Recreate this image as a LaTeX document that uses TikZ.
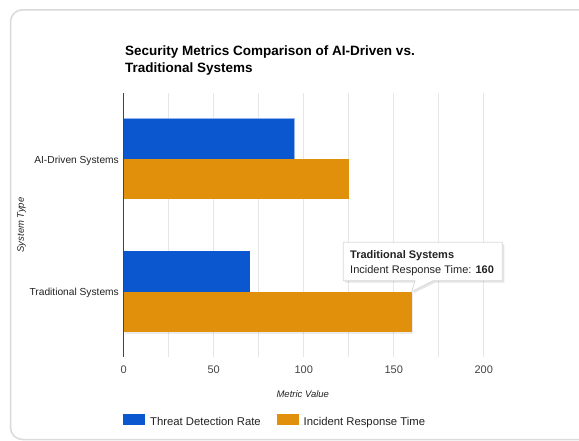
\documentclass[tikz,border=0pt]{standalone}
\usepackage{fontspec}
\setmainfont{Liberation Sans}
\definecolor{barblue}{HTML}{0B57D0}
\definecolor{barorange}{HTML}{E0900A}
\definecolor{gridgray}{HTML}{E6E6E6}
\definecolor{cardgray}{HTML}{DADADA}
\definecolor{txt}{HTML}{222222}
\definecolor{tick}{HTML}{444444}
\begin{document}
\begin{tikzpicture}[x=1pt,y=-1pt,
  lbl/.style={inner sep=0pt,text=txt,font=\fontsize{10.2}{12}\selectfont},
  ticklbl/.style={inner sep=0pt,text=tick,font=\fontsize{11}{13}\selectfont,anchor=base},
  ttl/.style={inner sep=0pt,anchor=base west,text=black,font=\fontsize{13.5}{16}\bfseries\selectfont},
  axttl/.style={inner sep=0pt,text=txt,font=\fontsize{9.5}{11}\itshape\selectfont},
  legtxt/.style={inner sep=0pt,anchor=base west,text=txt,font=\fontsize{11.3}{13}\selectfont},
  tiptxt/.style={inner sep=0pt,anchor=base west,text=txt,font=\fontsize{11}{13}\selectfont},
  gridln/.style={draw=gridgray,line width=0.8pt},
  bluebar/.style={fill=barblue},
  orangebar/.style={fill=barorange}]
\useasboundingbox (0,0) rectangle (579,440);
\fill[white] (0,0) rectangle (579,440);
\begin{scope}
\clip (0,0) rectangle (579,440);
\draw[cardgray,line width=1.5pt,rounded corners=12pt] (10.5,9.8) rectangle (600,439.5);
\end{scope}
% title
\node[ttl] (t1) at (125,55.5) {Security Metrics Comparison of AI-Driven vs.};
\node[ttl] (t2) at (125,72.5) {Traditional Systems};
% grid and bars in data units
\begin{scope}[xshift=123.7pt,x=1.8pt]
  \foreach \v in {25,50,...,200} \draw[gridln] (\v,93) -- (\v,357);
  % shadow of highlighted bar
  \fill[black,opacity=0.08] (0.6,292.5) rectangle (160.8,333.5);
  \fill[bluebar] (0,118.3) rectangle (95,159);
  \draw[barblue!45,line width=0.8pt] (0,118.3) rectangle (95,159);
  \fill[orangebar] (0,159) rectangle (125,199.3);
  \fill[bluebar] (0,251) rectangle (70,291.7);
  \fill[orangebar] (0,291.7) rectangle (160,332.3);
  \draw[tick,line width=1pt] (0,93) -- (0,357);
  \foreach \v in {0,50,100,150,200} \node[ticklbl] (tk\v) at (\v,373.3) {\v};
\end{scope}
% category labels
\node[lbl,anchor=base east] (cat1) at (119,163.3) {AI-Driven Systems};
\node[lbl,anchor=base east] (cat2) at (119,295) {Traditional Systems};
% axis titles
\node[axttl,rotate=90] (ytitle) at (21.5,225) {System Type};
\node[axttl,anchor=base] (xtitle) at (302.8,397.5) {Metric Value};
% legend
\fill[barblue] (123,414.3) rectangle (145,425.3);
\node[legtxt] (leg1) at (150,425) {Threat Detection Rate};
\fill[barorange] (276.5,414.3) rectangle (298.5,425.3);
\node[legtxt] (leg2) at (303.5,425) {Incident Response Time};
% tooltip
\fill[black,opacity=0.10] (345,244.3) -- (504.3,244.3) -- (504.3,282.7) -- (435,282.7) -- (413.7,293.2) -- (417,282.7) -- (345,282.7) -- cycle;
\draw[fill=white,draw=cardgray,line width=0.8pt] (343.3,242.3) -- (502.3,242.3) -- (502.3,280.7) -- (433,280.7) -- (411.7,291.7) -- (415,280.7) -- (343.3,280.7) -- cycle;
\node[tiptxt] (tip1) at (350,258.3) {\bfseries Traditional Systems};
\node[tiptxt] (tip2) at (350,273.3) {Incident Response Time: \textbf{160}};
\end{tikzpicture}
\end{document}
